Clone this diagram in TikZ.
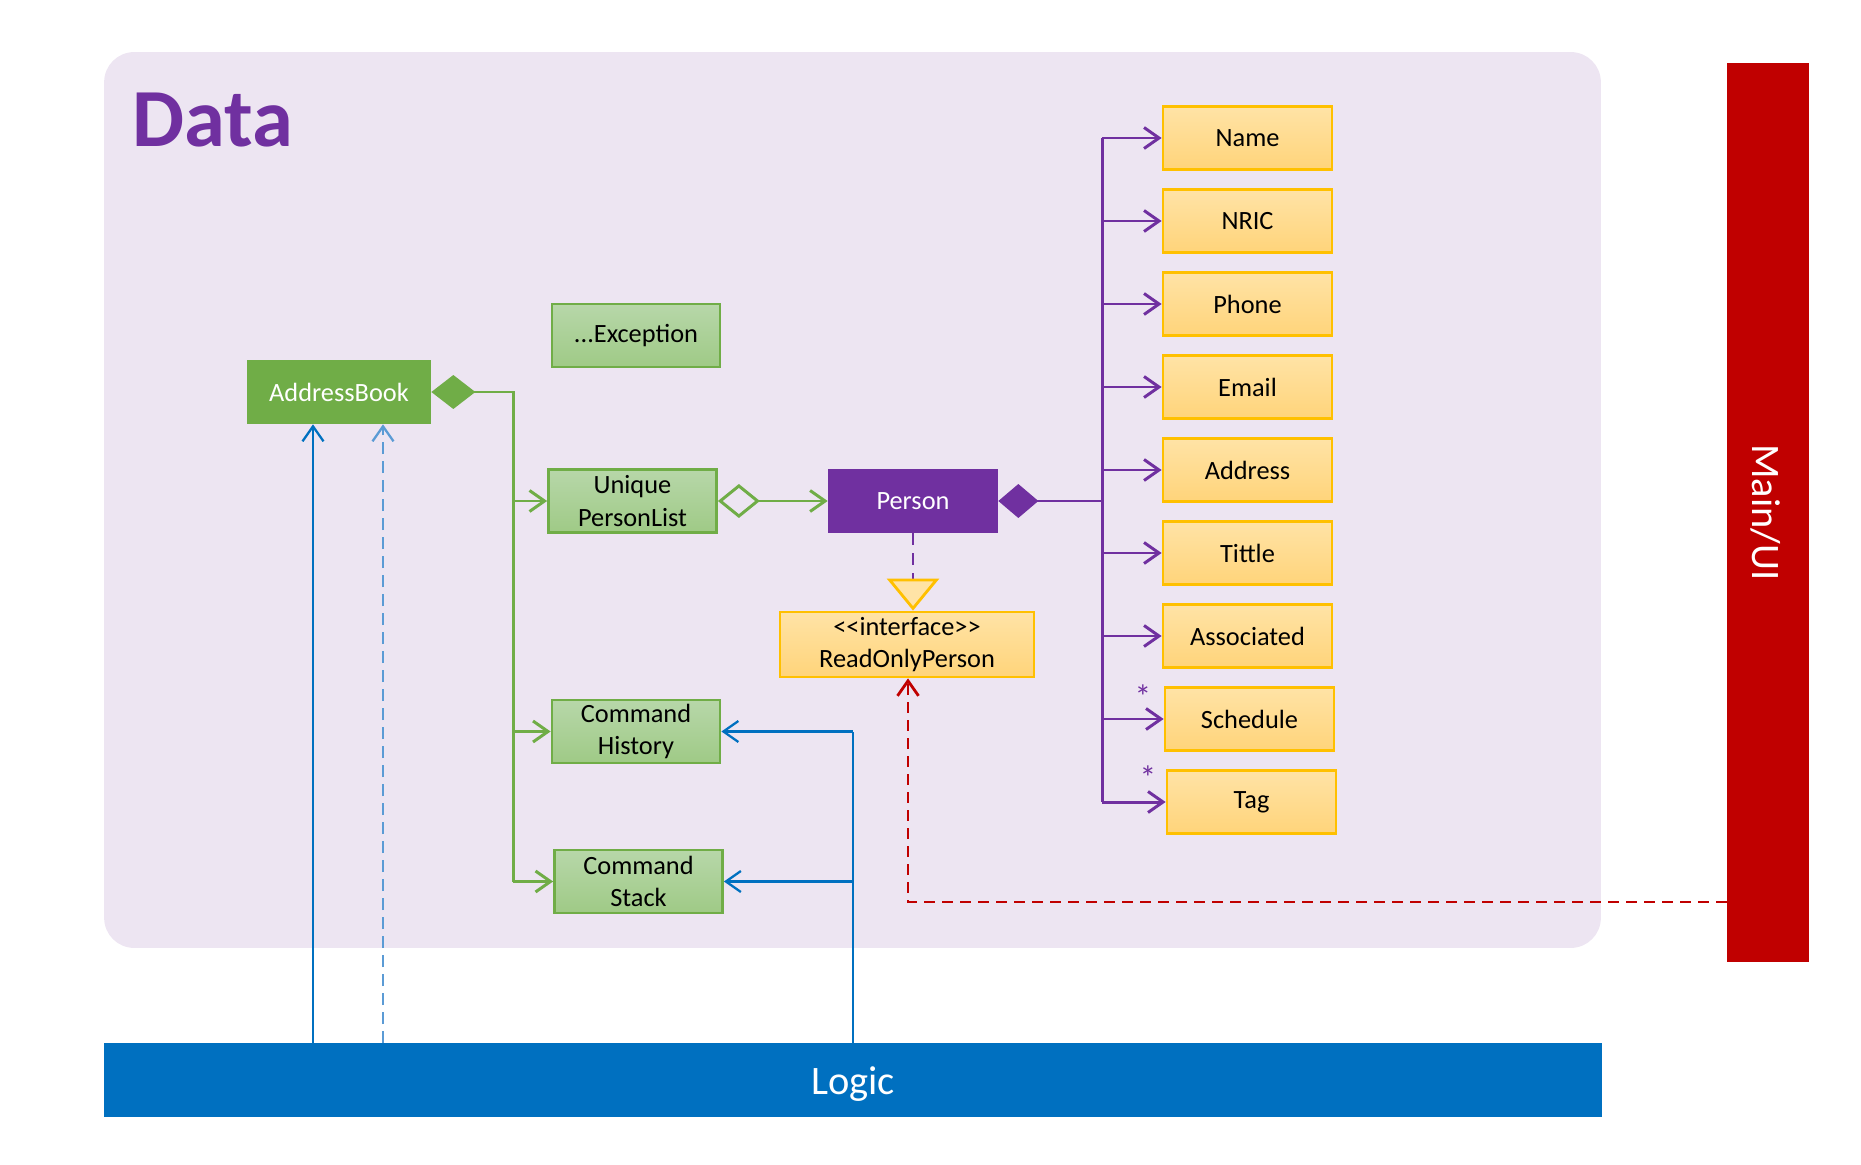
\documentclass[tikz,border=0pt]{standalone}
\usepackage{fontspec}
\setmainfont{Carlito}
\usetikzlibrary{arrows.meta}
\definecolor{databg}{HTML}{EDE5F2}
\definecolor{datapurple}{HTML}{7030A0}
\definecolor{abgreen}{HTML}{70AD47}
\definecolor{lgtop}{HTML}{B7D7A9}
\definecolor{lgbot}{HTML}{9FCA86}
\definecolor{ytop}{HTML}{FFE3A6}
\definecolor{ybot}{HTML}{FFD47A}
\definecolor{yborder}{HTML}{FFC000}
\definecolor{uired}{HTML}{C00000}
\definecolor{logicblue}{HTML}{0070C0}
\definecolor{lightblue}{HTML}{5B9BD5}

\begin{document}
\begin{tikzpicture}[x=0.02cm,y=-0.02cm,font=\fontsize{15}{18.5}\selectfont,
    openhead/.tip={Straight Barb[length=0.3cm,width=0.42cm]},
    greenbox/.style={draw=abgreen,line width=1.6pt,top color=lgtop,bottom color=lgbot,minimum width=3.36cm,minimum height=1.26cm,inner sep=0pt,align=center},
    attrbox/.style={draw=yborder,line width=1.6pt,top color=ytop,bottom color=ybot,minimum width=3.38cm,minimum height=1.26cm,inner sep=0pt},
    gline/.style={draw=abgreen,line width=1.7pt},
    pline/.style={draw=datapurple,line width=1.7pt},
    bline/.style={draw=logicblue,line width=1.3pt}]
                \useasboundingbox (0, 0) rectangle (1861, 1165);
                % layers
                \node[fill=databg,rounded corners=0.6cm,minimum width=29.94cm,minimum height=17.92cm,inner sep=0pt](DataPanel)at(852.5, 500){};
                \node[anchor=base west,text=datapurple,font=\fontsize{47}{47}\selectfont\bfseries](DataTitle)at(126, 147){Data};
                \node[fill=uired,minimum width=1.64cm,minimum height=17.98cm,inner sep=0pt](MainUI)at(1768, 512.5){};
                \node[rotate=-90,text=white,font=\fontsize{23}{23}\selectfont](MainUIText)at(1766, 512.5){Main/UI};
                \node[fill=logicblue,minimum width=29.96cm,minimum height=1.48cm,inner sep=0pt](Logic)at(853, 1080){};
                \node[text=white,font=\fontsize{23}{23}\selectfont](LogicText)at(853, 1084){Logic};
                % classes
                \node[fill=abgreen,text=white,minimum width=3.68cm,minimum height=1.28cm,inner sep=0pt](AddressBook)at(339, 392){AddressBook};
                \node[greenbox](Exception)at(636, 335.5){...Exception};
                \node[greenbox](UniquePersonList)at(632.5, 501){Unique\\PersonList};
                \node[greenbox](CommandHistory)at(636, 731.5){Command\\History};
                \node[greenbox](CommandStack)at(638.5, 881.5){Command\\Stack};
                \node[fill=datapurple,text=white,minimum width=3.4cm,minimum height=1.28cm,inner sep=0pt](Person)at(913, 501){Person};
                \node[attrbox,minimum width=5.08cm,minimum height=1.3cm,align=center](ReadOnlyPerson)at(907, 644.5){<{}<interface>{}>\\ReadOnlyPerson};
                \foreach \attr/\ypos/\dx in {Name/138/0,NRIC/221/0,Phone/304/0,Email/387/0,Address/470/0,Tittle/553/0,Associated/636/0,Schedule/719/2,Tag/802/4}
                    \node[attrbox](\attr)at(1247.5+\dx, \ypos){\attr};
                \node[text=datapurple,font=\fontsize{19}{19}\selectfont](StarSchedule)at(1143, 697){*};
                \node[text=datapurple,font=\fontsize{19}{19}\selectfont](StarTag)at(1148, 778){*};
                % AddressBook side
                \coordinate(gjoin)at(513, 392);
                \coordinate(gend)at(513, 881.5);
                \draw[gline,{Diamond[length=0.88cm,width=0.68cm]}-](AddressBook.east)--(gjoin)--(gend);
                \draw[gline,-openhead](gjoin |- UniquePersonList)--(UniquePersonList.west);
                \draw[gline,-openhead](gjoin |- CommandHistory)--(CommandHistory.west);
                \draw[gline,-openhead](gend)--(CommandStack.west);
                \draw[gline,{Diamond[open,length=0.84cm,width=0.68cm]}-openhead](UniquePersonList.east)--(Person.west);
                % Person fields
                \coordinate(pjoin)at(1102, 501);
                \draw[pline,{Diamond[length=0.8cm,width=0.68cm]}-](Person.east)--(pjoin);
                \draw[pline](Name.west -| pjoin)--(Tag.west -| pjoin);
                \foreach \attr in {Name,NRIC,Phone,Email,Address,Tittle,Associated,Schedule,Tag}
                    \draw[pline,-openhead](\attr.west -| pjoin)--(\attr.west);
                \draw[pline,line width=1.3pt,dash pattern=on 0.24cm off 0.16cm,-{Triangle[length=0.64cm,width=1.04cm,fill=ytop,color=yborder,line width=1.6pt]}](Person.south)--(Person.south |- ReadOnlyPerson.north);
                % Main/UI and Logic
                \coordinate(rturn)at(908, 902);
                \draw[draw=uired,line width=1.6pt,dash pattern=on 0.22cm off 0.14cm,-openhead](MainUI.west |- rturn)--(rturn)--(ReadOnlyPerson.south -| rturn);
                \coordinate(lsolid)at(313, 1043);
                \coordinate(ldashed)at(383, 1043);
                \coordinate(lcmd)at(853, 1043);
                \draw[bline,-openhead](lsolid)--(lsolid |- AddressBook.south);
                \draw[bline,draw=lightblue,dash pattern=on 0.24cm off 0.14cm,-openhead](ldashed)--(ldashed |- AddressBook.south);
                \draw[bline](lcmd)--(lcmd |- CommandHistory);
                \draw[bline,-openhead](lcmd |- CommandHistory)--(CommandHistory.east);
                \draw[bline,-openhead](lcmd |- CommandStack)--(CommandStack.east);
            \end{tikzpicture}
\end{document}
